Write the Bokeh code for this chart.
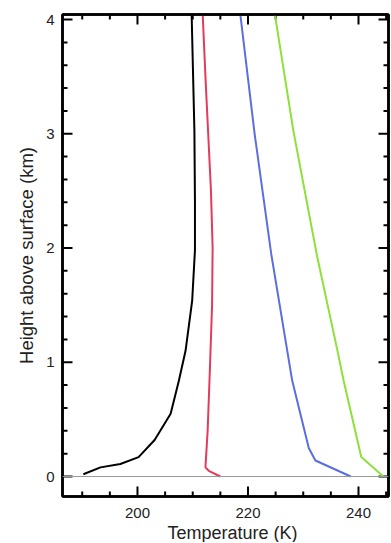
from bokeh.plotting import figure
from bokeh.models import LinearAxis, SingleIntervalTicker, Span, Range1d, CustomJSTickFormatter, Title
from bokeh.embed import file_html
from bokeh.resources import INLINE

# Temperature profiles (K) vs height above surface (km)
black_t = [190.2, 193.3, 196.9, 200.2, 203.1, 206.0, 207.5, 208.7, 209.9, 210.4, 210.4, 210.3, 209.8]
black_h = [0.02, 0.08, 0.11, 0.17, 0.32, 0.55, 0.84, 1.10, 1.54, 1.98, 2.42, 3.03, 4.05]

red_t = [215.0, 212.9, 212.3, 212.7, 213.1, 213.5, 213.6, 213.3, 212.8, 212.3, 211.8]
red_h = [0.0, 0.05, 0.08, 0.40, 0.93, 1.50, 2.00, 2.50, 3.00, 3.50, 4.05]

blue_t = [238.6, 232.2, 231.0, 228.0, 224.2, 221.2, 218.6]
blue_h = [0.0, 0.14, 0.25, 0.84, 1.95, 3.00, 4.05]

green_t = [244.5, 240.5, 237.3, 236.2, 232.5, 228.2, 224.85]
green_h = [0.0, 0.17, 0.84, 1.10, 1.93, 3.03, 4.05]

# tick positions
x_major_ticks = [200, 220, 240]
x_minor_ticks = [190, 195, 205, 210, 215, 225, 230, 235, 245]
y_major_ticks = [0, 1, 2, 3, 4]
y_minor_ticks = [0.2, 0.4, 0.6, 0.8, 1.2, 1.4, 1.6, 1.8, 2.2, 2.4, 2.6, 2.8,
                 3.2, 3.4, 3.6, 3.8]

X0, X1 = 186.43, 245.43
Y0, Y1 = -0.175, 4.044
FW, FH = 326, 482

FONT = "Liberation Sans"
TXT = "#222222"

p = figure(frame_width=FW, frame_height=FH,
           x_range=Range1d(X0, X1), y_range=Range1d(Y0, Y1),
           output_backend="svg", toolbar_location=None,
           min_border_left=62, min_border_right=3, min_border_top=14, min_border_bottom=0,
           background_fill_color=None, border_fill_color=None)
p.grid.visible = False
p.outline_line_color = "black"
p.outline_line_width = 2.5


def style(ax, labels=True):
    ax.axis_line_width = 2.5
    ax.axis_line_color = "black"
    ax.major_tick_in = 0
    ax.major_tick_out = 0
    ax.minor_tick_in = 0
    ax.minor_tick_out = 0
    ax.major_tick_line_color = None
    ax.minor_tick_line_color = None
    ax.major_label_text_font = FONT
    ax.major_label_text_font_size = "15px"
    ax.major_label_text_color = TXT
    if not labels:
        ax.formatter = CustomJSTickFormatter(code="return ''")
        ax.major_label_standoff = 0


p.xaxis[0].ticker = SingleIntervalTicker(interval=20, num_minor_ticks=4)
p.yaxis[0].ticker = SingleIntervalTicker(interval=1, num_minor_ticks=5)
style(p.xaxis[0])
style(p.yaxis[0])
p.xaxis[0].major_label_standoff = 11
p.yaxis[0].major_label_standoff = 8
p.yaxis[0].axis_label = "Height above surface (km)"
p.yaxis[0].axis_label_text_font = FONT
p.yaxis[0].axis_label_text_font_size = "18.5px"
p.yaxis[0].axis_label_text_font_style = "normal"
p.yaxis[0].axis_label_text_color = TXT
p.yaxis[0].axis_label_standoff = 6

top = LinearAxis(ticker=SingleIntervalTicker(interval=20, num_minor_ticks=4))
style(top, labels=False)
p.add_layout(top, "above")
right = LinearAxis(ticker=SingleIntervalTicker(interval=1, num_minor_ticks=5))
style(right, labels=False)
p.add_layout(right, "right")

# inward tick marks, lengths converted from pixels to data units
dx = (X1 - X0) / FW
dy = (Y1 - Y0) / FH
for xs, L in ((x_major_ticks, 10), (x_minor_ticks, 5)):
    n = len(xs)
    p.segment(x0=xs, y0=[Y0] * n, x1=xs, y1=[Y0 + L * dy] * n, line_color="black", line_width=2)
    p.segment(x0=xs, y0=[Y1] * n, x1=xs, y1=[Y1 - L * dy] * n, line_color="black", line_width=2)
for ys, L in ((y_major_ticks, 10), (y_minor_ticks, 5)):
    n = len(ys)
    p.segment(x0=[X0] * n, y0=ys, x1=[X0 + L * dx] * n, y1=ys, line_color="black", line_width=2)
    p.segment(x0=[X1] * n, y0=ys, x1=[X1 - L * dx] * n, y1=ys, line_color="black", line_width=2)

p.add_layout(Span(location=0, dimension="width", line_color="#9a9a9a", line_width=1.2))

p.line(black_t, black_h, line_color="black", line_width=2)
p.line(red_t, red_h, line_color="#e23b5c", line_width=2)
p.line(blue_t, blue_h, line_color="#5a6ee0", line_width=2)
p.line(green_t, green_h, line_color="#8ee03a", line_width=2)

p.add_layout(Title(text="Temperature (K)", align="left", offset=105,
                   text_font=FONT, text_font_size="18px", text_font_style="normal",
                   text_color=TXT, standoff=0), "below")

open("out.html", "w").write(file_html(p, INLINE))
